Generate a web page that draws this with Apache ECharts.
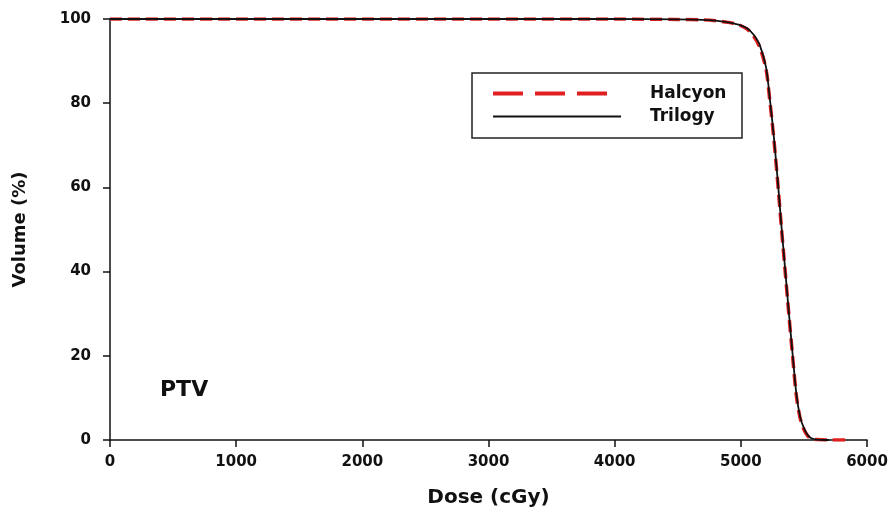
<!DOCTYPE html>
<html>
<head>
<meta charset="utf-8">
<script src="https://cdn.jsdelivr.net/npm/echarts@6/dist/echarts.min.js"></script>
<style>
  html, body { margin: 0; padding: 0; background: #fff; }
  #main { width: 892px; height: 513px; }
</style>
</head>
<body>
<div id="main"></div>
<script>
// DVH data (dose in cGy, volume in %)
let trilogyDose = [0, 1000, 2000, 3000, 4000, 4500, 4700, 4800, 4900, 4950, 5000, 5050, 5100, 5150, 5200, 5230, 5260, 5290, 5320, 5350, 5380, 5410, 5440, 5470, 5500, 5530, 5560, 5600, 5700];
let trilogyVol  = [100, 100, 100, 100, 100, 99.9, 99.8, 99.6, 99.2, 98.9, 98.5, 97.8, 96.3, 93.8, 88.5, 81, 72.5, 62.5, 51.5, 41, 30.5, 20.5, 11, 5.5, 2.8, 1.2, 0.4, 0.1, 0];
let halcyonDose = [0, 1000, 2000, 3000, 4000, 4500, 4700, 4800, 4900, 4950, 5000, 5050, 5100, 5150, 5200, 5230, 5260, 5290, 5320, 5350, 5380, 5410, 5440, 5470, 5500, 5530, 5560, 5600, 5700, 5860];
let halcyonVol  = [100, 100, 100, 100, 100, 99.9, 99.8, 99.6, 99.2, 98.9, 98.4, 97.6, 96.0, 93.3, 88, 80.5, 72, 62, 51, 40.5, 30, 20, 10.5, 5.2, 2.5, 1.0, 0.3, 0.1, 0, 0];
let xTicks = [0, 1000, 2000, 3000, 4000, 5000, 6000];
let yTicks = [0, 20, 40, 60, 80, 100];

let pair = (xs, ys) => xs.map((x, i) => [x, ys[i]]);

let myChart = echarts.init(document.getElementById('main'));

let textFont = 'DejaVu Sans';
let option = {
    animation: false,
    grid: { left: 110, right: 25, top: 19, bottom: 73 },
    xAxis: {
        type: 'value',
        min: xTicks[0],
        max: xTicks[xTicks.length - 1],
        interval: 1000,
        name: 'Dose (cGy)',
        nameLocation: 'middle',
        nameGap: 48,
        nameTextStyle: { fontFamily: textFont, fontWeight: 'bold', fontSize: 20, color: '#111' },
        axisLine: { show: true, onZero: false, lineStyle: { color: '#111', width: 1.5 } },
        axisTick: { show: true, inside: false, length: 7, lineStyle: { color: '#111', width: 1.5 } },
        axisLabel: { fontFamily: textFont, fontWeight: 'bold', fontSize: 15, color: '#111', margin: 15,
            formatter: v => String(v) },
        splitLine: { show: false }
    },
    yAxis: {
        type: 'value',
        min: yTicks[0],
        max: yTicks[yTicks.length - 1],
        interval: 20,
        name: 'Volume (%)',
        nameLocation: 'middle',
        nameGap: 81,
        nameTextStyle: { fontFamily: textFont, fontWeight: 'bold', fontSize: 18, color: '#111' },
        axisLine: { show: true, lineStyle: { color: '#111', width: 1.5 } },
        axisTick: { show: true, inside: false, length: 7, lineStyle: { color: '#111', width: 1.5 } },
        axisLabel: { fontFamily: textFont, fontWeight: 'bold', fontSize: 15, color: '#111', margin: 19 },
        splitLine: { show: false }
    },
    legend: {
        orient: 'vertical',
        left: 486,
        top: 80,
        itemWidth: 128,
        itemHeight: 14,
        itemGap: 6,
        data: [
            { name: 'Halcyon', itemStyle: { opacity: 0 }, lineStyle: { type: [30, 12, 30, 12, 30, 60], width: 4, color: '#e02020' } },
            { name: 'Trilogy', itemStyle: { opacity: 0 }, lineStyle: { width: 2, color: '#111' } }
        ],
        textStyle: { fontFamily: textFont, fontWeight: 'bold', fontSize: 17, color: '#111', padding: [0, 0, 0, 24] }
    },
    graphic: [
        {
            type: 'rect',
            shape: { x: 472, y: 73, width: 270, height: 65 },
            style: { fill: 'none', stroke: '#222', lineWidth: 1.5 },
            z: 0
        },
        {
            type: 'text',
            x: 160,
            y: 390,
            style: { text: 'PTV', fontFamily: textFont, fontWeight: 'bold', fontSize: 22, fill: '#111', verticalAlign: 'middle' }
        }
    ],
    series: [
        {
            name: 'Halcyon',
            type: 'line',
            data: pair(halcyonDose, halcyonVol),
            symbol: 'none',
            smooth: 0.3,
            lineStyle: { color: '#e02020', width: 3.5, type: [12, 6] },
            itemStyle: { color: '#e02020' },
            z: 2
        },
        {
            name: 'Trilogy',
            type: 'line',
            data: pair(trilogyDose, trilogyVol),
            symbol: 'none',
            smooth: 0.3,
            lineStyle: { color: '#111', width: 1.8 },
            itemStyle: { color: '#111' },
            z: 3
        }
    ]
};

myChart.setOption(option);
</script>
</body>
</html>
